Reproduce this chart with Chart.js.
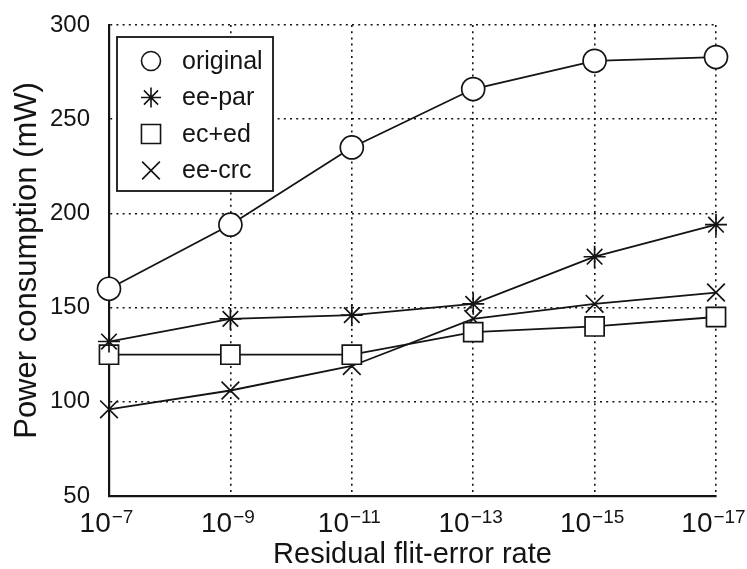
<!DOCTYPE html>
<html>
<head>
<meta charset="utf-8">
<script src="https://cdn.jsdelivr.net/npm/chart.js@4.4.0/dist/chart.umd.min.js"></script>
<style>
  html, body { margin: 0; padding: 0; background: #fff; }
  #wrap { width: 747px; height: 569px; }
</style>
</head>
<body>
<div id="wrap"><canvas id="powerChart"></canvas></div>
<script>
// residual flit-error rates on the x axis (base^exponent)
const errorRates = ['10^-7', '10^-9', '10^-11', '10^-13', '10^-15', '10^-17'];

// power consumption in mW
const original = [160, 194, 235, 266, 281, 283];
const eePar = [132, 144, 146, 152, 177, 194];
const ecEd = [125, 125, 125, 137, 140, 145];
const eeCrc = [96, 106, 119, 144, 152, 158];

const yMin = 50;
const yMax = 300;
const yStep = 50;

const family = '"Liberation Sans", Arial, Helvetica, sans-serif';
const ink = '#141414';

// small markers for the boxed legend
const legendRadius = { circle: 9.5, star: 10, rect: 13.5, crossRot: 12.5 };

function makeSeries(label, data, pointStyle, radius) {
    return {
        label: label,
        data: data,
        borderColor: ink,
        borderWidth: 1.8,
        tension: 0,
        fill: false,
        pointStyle: pointStyle,
        pointRadius: radius,
        pointHoverRadius: radius,
        pointBackgroundColor: '#fff',
        pointBorderColor: ink,
        pointBorderWidth: 1.7
    };
}

// legend in a framed box at the top-left of the plot
const boxedLegend = {
    id: 'boxedLegend',
    afterDatasetsDraw(chart) {
        const ctx = chart.ctx;
        const area = chart.chartArea;
        const x0 = area.left + 8;
        const y0 = area.top + 12;
        const w = 156;
        const h = 154;
        ctx.save();
        ctx.fillStyle = '#fff';
        ctx.fillRect(x0, y0, w, h);
        ctx.strokeStyle = ink;
        ctx.lineWidth = 1.8;
        ctx.strokeRect(x0, y0, w, h);

        chart.data.datasets.forEach((ds, i) => {
            const cy = y0 + 24 + i * 36.5;
            ctx.fillStyle = '#fff';
            ctx.strokeStyle = ink;
            ctx.lineWidth = 1.6;
            Chart.helpers.drawPoint(ctx, {
                pointStyle: ds.pointStyle,
                radius: legendRadius[ds.pointStyle],
                borderWidth: 1.6,
                rotation: 0
            }, x0 + 34, cy);
            ctx.fillStyle = ink;
            ctx.font = '25px ' + family;
            ctx.textBaseline = 'middle';
            ctx.textAlign = 'left';
            ctx.fillText(ds.label, x0 + 65, cy + 1);
        });
        ctx.restore();
    }
};

// x tick labels as 10 with a raised exponent
const powerTickLabels = {
    id: 'powerTickLabels',
    afterDraw(chart) {
        const ctx = chart.ctx;
        const xScale = chart.scales.x;
        ctx.save();
        ctx.fillStyle = ink;
        ctx.textBaseline = 'alphabetic';
        ctx.textAlign = 'left';
        errorRates.forEach((label, i) => {
            const parts = label.split('^');
            const base = parts[0];
            const expText = parts[1].replace('-', '\u2212');
            ctx.font = '28px ' + family;
            const bw = ctx.measureText(base).width;
            ctx.font = '19px ' + family;
            const ew = ctx.measureText(expText).width;
            const left = xScale.getPixelForValue(i) - (bw + ew) / 2 - 3;
            const baseY = xScale.top + 36;
            ctx.font = '28px ' + family;
            ctx.fillText(base, left, baseY);
            ctx.font = '19px ' + family;
            ctx.fillText(expText, left + bw + 1, baseY - 9);
        });
        ctx.restore();
    }
};

const chart = new Chart(document.getElementById('powerChart'), {
    type: 'line',
    data: {
        labels: errorRates,
        datasets: [
            makeSeries('original', original, 'circle', 11.5),
            makeSeries('ee-par', eePar, 'star', 11),
            makeSeries('ec+ed', ecEd, 'rect', 13.5),
            makeSeries('ee-crc', eeCrc, 'crossRot', 12.5)
        ]
    },
    options: {
        responsive: true,
        maintainAspectRatio: false,
        animation: false,
        layout: {
            padding: { top: 25, right: 31, left: 0, bottom: 0 }
        },
        plugins: {
            legend: { display: false },
            tooltip: { enabled: false }
        },
        scales: {
            x: {
                type: 'category',
                offset: false,
                afterFit(scale) {
                    scale.height = 73;
                },
                ticks: { display: false },
                grid: {
                    color: ink,
                    lineWidth: 1.6,
                    drawTicks: false
                },
                border: {
                    color: ink,
                    width: 2.2,
                    dash: [2, 4.2]
                },
                title: {
                    display: true,
                    text: 'Residual flit-error rate',
                    color: ink,
                    font: { family: family, size: 29, lineHeight: 1 },
                    padding: { top: 0, bottom: 0 }
                }
            },
            y: {
                min: yMin,
                max: yMax,
                afterFit(scale) {
                    scale.width = 109;
                    // the layout padding already leaves room for the end labels
                    scale.paddingTop = 0;
                    scale.paddingBottom = 0;
                },
                ticks: {
                    stepSize: yStep,
                    color: ink,
                    padding: 19,
                    font: { family: family, size: 24 }
                },
                grid: {
                    color: ink,
                    lineWidth: 1.6,
                    drawTicks: false
                },
                border: {
                    color: ink,
                    width: 2.2,
                    dash: [2, 4.2]
                },
                title: {
                    display: true,
                    text: 'Power consumption (mW)',
                    color: ink,
                    font: { family: family, size: 31, lineHeight: 1 },
                    padding: { top: 12, bottom: 0 }
                }
            }
        }
    },
    plugins: [boxedLegend, powerTickLabels]
});
</script>
</body>
</html>
